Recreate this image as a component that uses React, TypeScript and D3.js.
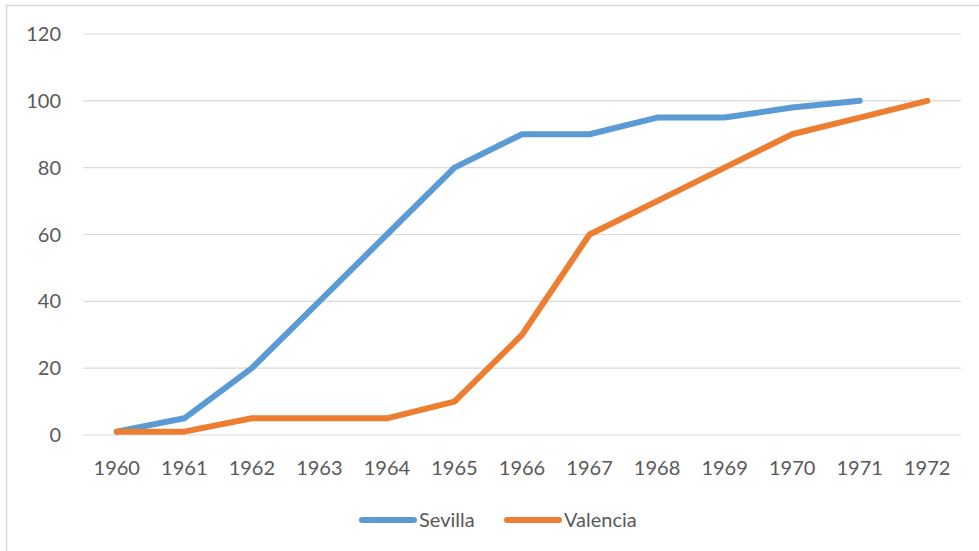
import React, { useEffect, useRef } from "react";
import * as d3 from "d3";

const years = ["1960", "1961", "1962", "1963", "1964", "1965", "1966", "1967", "1968", "1969", "1970", "1971", "1972"];
const sevilla = [1, 5, 20, 40, 60, 80, 90, 90, 95, 95, 98, 100, null];
const valencia = [1, 1, 5, 5, 5, 10, 30, 60, 70, 80, 90, 95, 100];
const yTicks = [0, 20, 40, 60, 80, 100, 120];

const seriesNames = ["Sevilla", "Valencia"];
const colors: Record<string, string> = { Sevilla: "#5b9bd5", Valencia: "#ed7d31" };

export default function App() {
  const ref = useRef<SVGSVGElement>(null);

  useEffect(() => {
    const svg = d3.select(ref.current);
    svg.selectAll("*").remove();
    const width = 979;
    const height = 551;
    const margin = { top: 34, right: 18, bottom: 116, left: 83 };
    const font = "Lato, 'Open Sans', sans-serif";

    // chart border
    svg
      .append("rect")
      .attr("x", 6.5)
      .attr("y", 5.5)
      .attr("width", width)
      .attr("height", height)
      .attr("fill", "white")
      .attr("stroke", "#d9d9d9")
      .attr("stroke-width", 1.5);

    const x = d3
      .scalePoint()
      .domain(years)
      .range([margin.left, width - margin.right])
      .padding(0.5);

    const y = d3
      .scaleLinear()
      .domain([0, 120])
      .range([height - margin.bottom, margin.top]);

    // gridlines
    svg
      .append("g")
      .selectAll("line")
      .data(yTicks)
      .join("line")
      .attr("x1", margin.left)
      .attr("x2", width - margin.right)
      .attr("y1", (d) => y(d))
      .attr("y2", (d) => y(d))
      .attr("stroke", "#d9d9d9")
      .attr("stroke-width", 1.2);

    // y labels
    svg
      .append("g")
      .selectAll("text")
      .data(yTicks)
      .join("text")
      .attr("x", 61)
      .attr("y", (d) => y(d))
      .attr("dy", "0.35em")
      .attr("text-anchor", "end")
      .attr("fill", "#595959")
      .style("font-family", font)
      .style("font-size", "20px")
      .text((d) => d);

    // x labels
    svg
      .append("g")
      .selectAll("text")
      .data(years)
      .join("text")
      .attr("x", (d) => x(d)!)
      .attr("y", 468)
      .attr("dy", "0.35em")
      .attr("text-anchor", "middle")
      .attr("fill", "#595959")
      .style("font-family", font)
      .style("font-size", "20px")
      .text((d) => d);

    const line = d3
      .line<number | null>()
      .defined((d) => d !== null)
      .x((d, i) => x(years[i])!)
      .y((d) => y(d as number));

    [sevilla, valencia].forEach((vals, i) => {
      svg
        .append("path")
        .datum(vals)
        .attr("d", line)
        .attr("fill", "none")
        .attr("stroke", colors[seriesNames[i]])
        .attr("stroke-width", 6)
        .attr("stroke-linecap", "round")
        .attr("stroke-linejoin", "round");
    });

    // legend
    const legendItems = [
      { name: "Sevilla", x: 362 },
      { name: "Valencia", x: 507 },
    ];
    legendItems.forEach((item) => {
      const g = svg.append("g").attr("transform", `translate(${item.x},520)`);
      g.append("line")
        .attr("x1", 0)
        .attr("x2", 52)
        .attr("stroke", colors[item.name])
        .attr("stroke-width", 6)
        .attr("stroke-linecap", "round");
      g.append("text")
        .attr("x", 57)
        .attr("dy", "0.35em")
        .attr("fill", "#595959")
        .style("font-family", font)
        .style("font-size", "20px")
        .text(item.name);
    });
  }, []);

  return (
    <svg
      ref={ref}
      width={979}
      height={551}
      style={{ position: "absolute", left: 0, top: 0, background: "white" }}
    />
  );
}
